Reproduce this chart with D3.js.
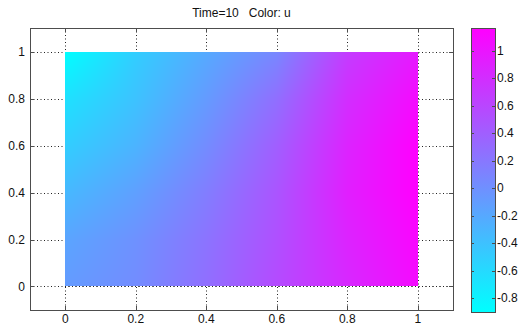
<!DOCTYPE html>
<html>
<head>
<meta charset="utf-8">
<script src="https://cdn.jsdelivr.net/npm/d3@7"></script>
<style>
  html, body { margin: 0; padding: 0; background: #fff; }
  svg { display: block; font-family: "Liberation Sans", Arial, sans-serif; }
</style>
</head>
<body>
<svg id="chart" width="520" height="326"></svg>
<script>
// grid of u values, rows by y, columns by x
const xGrid = [0, 0.2, 0.4, 0.6, 0.8, 1]
const yGrid = [0, 0.2, 0.4, 0.6, 0.8, 1]
const uValues = [
  [-0.09, 0.03, 0.27, 0.56, 0.84, 1.08],   // y = 0
  [-0.17, -0.01, 0.23, 0.52, 0.88, 1.12],  // y = 0.2
  [-0.33, -0.13, 0.15, 0.48, 0.92, 1.165], // y = 0.4
  [-0.5, -0.29, 0.03, 0.4, 0.88, 1.165],   // y = 0.6
  [-0.66, -0.41, -0.09, 0.27, 0.8, 1.08],  // y = 0.8
  [-0.9, -0.5, -0.21, 0.07, 0.68, 0.96],   // y = 1
]
const uRange = [-0.9, 1.165]
const axisTicks = [0, 0.2, 0.4, 0.6, 0.8, 1]
const colorTicks = [-0.8, -0.6, -0.4, -0.2, 0, 0.2, 0.4, 0.6, 0.8, 1]
const title = 'Time=10   Color: u'

const svg = d3.select('#chart')
const plot = { left: 30, top: 28, right: 453, bottom: 310 }
const bar = { left: 471, top: 28, right: 495, bottom: 312 }
const axisColor = '#4d4d4d'

const x = d3.scaleLinear().domain([-0.1, 1.1]).range([plot.left, plot.right])
const y = d3.scaleLinear().domain([-0.1, 1.1]).range([plot.bottom, plot.top])
const color = d3.scaleSequential(d3.interpolateRgb('#00ffff', '#ff00ff')).domain(uRange)

// bilinear lookup in the grid
function sample(px, py) {
  const ix = Math.min(xGrid.length - 2, Math.max(0, d3.bisectRight(xGrid, px) - 1))
  const iy = Math.min(yGrid.length - 2, Math.max(0, d3.bisectRight(yGrid, py) - 1))
  const tx = (px - xGrid[ix]) / (xGrid[ix + 1] - xGrid[ix])
  const ty = (py - yGrid[iy]) / (yGrid[iy + 1] - yGrid[iy])
  const a = uValues[iy][ix], b = uValues[iy][ix + 1]
  const c = uValues[iy + 1][ix], d = uValues[iy + 1][ix + 1]
  return (a * (1 - tx) + b * tx) * (1 - ty) + (c * (1 - tx) + d * tx) * ty
}

// grid lines
const grid = svg.append('g')
  .attr('stroke', '#222').attr('stroke-width', 1).attr('stroke-dasharray', '1,2.5')
grid.selectAll('line.gx').data(axisTicks).join('line')
  .attr('x1', d => Math.round(x(d)) + 0.5).attr('x2', d => Math.round(x(d)) + 0.5)
  .attr('y1', plot.top).attr('y2', plot.bottom)
grid.selectAll('line.gy').data(axisTicks).join('line')
  .attr('y1', d => Math.round(y(d)) + 0.5).attr('y2', d => Math.round(y(d)) + 0.5)
  .attr('x1', plot.left).attr('x2', plot.right)

// field image
const fx0 = Math.round(x(xGrid[0])), fx1 = Math.round(x(xGrid[xGrid.length - 1]))
const fy0 = Math.round(y(yGrid[yGrid.length - 1])), fy1 = Math.round(y(yGrid[0]))
const w = fx1 - fx0, h = fy1 - fy0
const canvas = document.createElement('canvas')
canvas.width = w
canvas.height = h
const ctx = canvas.getContext('2d')
const img = ctx.createImageData(w, h)
for (let j = 0; j < h; j++) {
  for (let i = 0; i < w; i++) {
    const c = d3.rgb(color(sample(x.invert(fx0 + i + 0.5), y.invert(fy0 + j + 0.5))))
    const k = (j * w + i) * 4
    img.data[k] = c.r
    img.data[k + 1] = c.g
    img.data[k + 2] = c.b
    img.data[k + 3] = 255
  }
}
ctx.putImageData(img, 0, 0)
svg.append('image')
  .attr('x', fx0).attr('y', fy0).attr('width', w).attr('height', h)
  .attr('preserveAspectRatio', 'none')
  .attr('href', canvas.toDataURL())

// y = 0 grid line shows along the lower edge of the field
svg.append('line')
  .attr('x1', fx0).attr('x2', plot.right)
  .attr('y1', Math.round(y(0)) + 0.5).attr('y2', Math.round(y(0)) + 0.5)
  .attr('stroke', '#222').attr('stroke-dasharray', '1,2.5')

// axes box and inward ticks
const frame = svg.append('g').attr('stroke', axisColor).attr('fill', 'none')
frame.append('rect')
  .attr('x', plot.left + 0.5).attr('y', plot.top + 0.5)
  .attr('width', plot.right - plot.left).attr('height', plot.bottom - plot.top)
const tl = 4
frame.selectAll('line.tb').data(axisTicks).join('line')
  .attr('x1', d => Math.round(x(d)) + 0.5).attr('x2', d => Math.round(x(d)) + 0.5)
  .attr('y1', plot.bottom).attr('y2', plot.bottom - tl)
frame.selectAll('line.tt').data(axisTicks).join('line')
  .attr('x1', d => Math.round(x(d)) + 0.5).attr('x2', d => Math.round(x(d)) + 0.5)
  .attr('y1', plot.top).attr('y2', plot.top + tl)
frame.selectAll('line.tlft').data(axisTicks).join('line')
  .attr('y1', d => Math.round(y(d)) + 0.5).attr('y2', d => Math.round(y(d)) + 0.5)
  .attr('x1', plot.left).attr('x2', plot.left + tl)
frame.selectAll('line.trgt').data(axisTicks).join('line')
  .attr('y1', d => Math.round(y(d)) + 0.5).attr('y2', d => Math.round(y(d)) + 0.5)
  .attr('x1', plot.right).attr('x2', plot.right - tl)

const fmt = d => String(+d.toFixed(1))
svg.append('g').attr('font-size', 12).attr('fill', '#111').attr('text-anchor', 'middle')
  .selectAll('text').data(axisTicks).join('text')
  .attr('x', d => x(d)).attr('y', 323).text(fmt)
svg.append('g').attr('font-size', 12).attr('fill', '#111').attr('text-anchor', 'end')
  .selectAll('text').data(axisTicks).join('text')
  .attr('x', 25).attr('y', d => y(d)).attr('dy', '0.35em').text(fmt)

svg.append('text')
  .attr('x', (plot.left + plot.right) / 2).attr('y', 17)
  .attr('text-anchor', 'middle').attr('font-size', 12).attr('fill', '#111')
  .style('white-space', 'pre')
  .text(title)

// colorbar
const cy = d3.scaleLinear().domain(uRange).range([bar.bottom, bar.top])
const grad = svg.append('defs').append('linearGradient')
  .attr('id', 'cbar').attr('x1', 0).attr('x2', 0).attr('y1', 1).attr('y2', 0)
grad.selectAll('stop').data(uRange).join('stop')
  .attr('offset', (d, i) => i)
  .attr('stop-color', d => color(d))
svg.append('rect')
  .attr('x', bar.left).attr('y', bar.top)
  .attr('width', bar.right - bar.left).attr('height', bar.bottom - bar.top)
  .attr('fill', 'url(#cbar)')
const cframe = svg.append('g').attr('stroke', axisColor).attr('fill', 'none')
cframe.append('rect')
  .attr('x', bar.left + 0.5).attr('y', bar.top + 0.5)
  .attr('width', bar.right - bar.left).attr('height', bar.bottom - bar.top)
cframe.selectAll('line.cl').data(colorTicks).join('line')
  .attr('y1', d => Math.round(cy(d)) + 0.5).attr('y2', d => Math.round(cy(d)) + 0.5)
  .attr('x1', bar.left).attr('x2', bar.left + 3)
cframe.selectAll('line.cr').data(colorTicks).join('line')
  .attr('y1', d => Math.round(cy(d)) + 0.5).attr('y2', d => Math.round(cy(d)) + 0.5)
  .attr('x1', bar.right).attr('x2', bar.right - 3)
svg.append('g').attr('font-size', 12).attr('fill', '#111')
  .selectAll('text').data(colorTicks).join('text')
  .attr('x', 497).attr('y', d => cy(d)).attr('dy', '0.35em').text(fmt)
</script>
</body>
</html>
